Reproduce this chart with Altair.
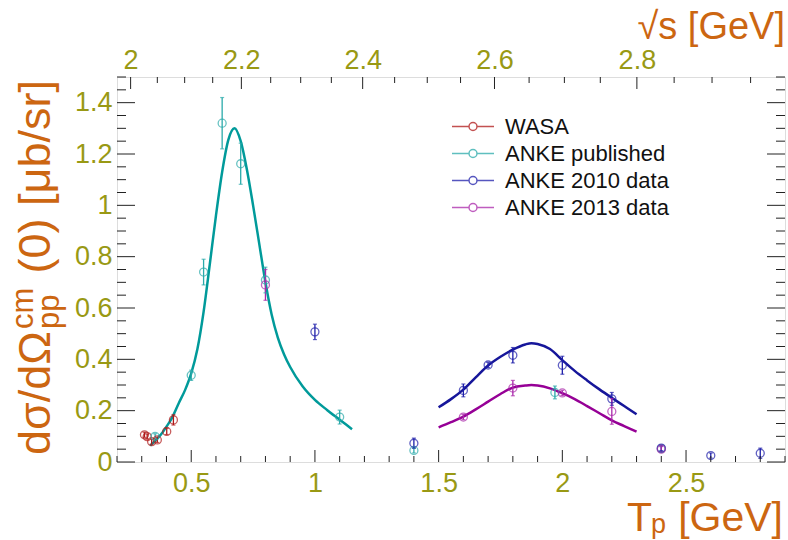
import altair as alt
import pandas as pd

# ---------------- data ----------------
series_names = ["WASA", "ANKE published", "ANKE 2010 data", "ANKE 2013 data"]
point_colors = ["#b01818", "#2aaaaa", "#1e1eaa", "#aa28aa"]

wasa_tp = [0.311, 0.322, 0.340, 0.363, 0.401, 0.428]
wasa_val = [0.106, 0.099, 0.079, 0.086, 0.119, 0.164]
wasa_err = [0.010, 0.010, 0.010, 0.010, 0.012, 0.020]

pub_tp = [0.354, 0.50, 0.55, 0.625, 0.70, 0.80, 1.10, 1.40, 1.97, 2.40]
pub_val = [0.100, 0.338, 0.740, 1.320, 1.162, 0.709, 0.175, 0.045, 0.271, 0.052]
pub_err = [0.010, 0.020, 0.050, 0.100, 0.080, 0.050, 0.027, 0.010, 0.025, 0.010]

a10_tp = [1.0, 1.4, 1.6, 1.7, 1.8, 2.0, 2.2, 2.4, 2.6, 2.8]
a10_val = [0.507, 0.073, 0.279, 0.378, 0.416, 0.377, 0.246, 0.054, 0.025, 0.034]
a10_err = [0.030, 0.020, 0.025, 0.010, 0.030, 0.035, 0.025, 0.010, 0.010, 0.020]

a13_tp = [0.8, 1.6, 1.8, 2.0, 2.2, 2.4]
a13_val = [0.690, 0.175, 0.288, 0.269, 0.197, 0.050]
a13_err = [0.060, 0.010, 0.030, 0.010, 0.050, 0.010]

# fitted curves
fit_pub_tp = [0.334, 0.36, 0.38, 0.40, 0.42, 0.45, 0.475, 0.50, 0.525, 0.55, 0.575, 0.60,
              0.625, 0.65, 0.675, 0.70, 0.725, 0.75, 0.775, 0.80, 0.825, 0.85, 0.875,
              0.90, 0.95, 1.00, 1.05, 1.10, 1.15]
fit_pub_val = [0.064, 0.088, 0.110, 0.138, 0.168, 0.230, 0.280, 0.345, 0.440, 0.585, 0.770, 0.960,
               1.130, 1.255, 1.300, 1.250, 1.140, 1.000, 0.850, 0.700, 0.575, 0.485, 0.420,
               0.370, 0.295, 0.242, 0.202, 0.165, 0.128]
fit_a10_tp = [1.50, 1.55, 1.60, 1.65, 1.70, 1.75, 1.80, 1.85, 1.875, 1.90, 1.95, 2.00, 2.05,
              2.10, 2.15, 2.20, 2.25, 2.30]
fit_a10_val = [0.213, 0.245, 0.282, 0.330, 0.376, 0.410, 0.438, 0.458, 0.463, 0.460, 0.440,
               0.397, 0.355, 0.318, 0.283, 0.250, 0.218, 0.186]
fit_a13_tp = fit_a10_tp
fit_a13_val = [0.135, 0.155, 0.177, 0.205, 0.235, 0.265, 0.290, 0.298, 0.300, 0.298, 0.287,
               0.268, 0.245, 0.218, 0.190, 0.162, 0.140, 0.118]

x_major = [0.5, 1.0, 1.5, 2.0, 2.5]
y_major = [0, 0.2, 0.4, 0.6, 0.8, 1.0, 1.2, 1.4]
sqrts_major = [2.0, 2.2, 2.4, 2.6, 2.8]

# ---------------- layout / style ----------------
W, H = 668, 385
OLIVE = "#999914"
ORANGE = "#cc6611"
FONT = "Liberation Sans"
MP = 0.938272  # proton mass, for the sqrt(s) axis


def tp_of_sqrts(r):
    return r * r / (2 * MP) - 2 * MP


top_major_tp = [tp_of_sqrts(r) for r in sqrts_major]
top_minor_tp = [tp_of_sqrts(2.0 + 0.05 * i) for i in range(20) if i % 4 != 0]
x_minor = [round(0.2 + 0.1 * i, 2) for i in range(28) if round(0.2 + 0.1 * i, 2) not in x_major]
y_minor = [round(0.05 * i, 2) for i in range(31) if round(0.05 * i, 2) not in [round(v, 2) for v in y_major]]

xscale = alt.Scale(domain=[0.2, 2.9], nice=False, zero=False)
yscale = alt.Scale(domain=[0, 1.5], nice=False, zero=True)
cscale = alt.Scale(domain=series_names, range=point_colors)

rows = []
for name, tps, vals, errs in [("WASA", wasa_tp, wasa_val, wasa_err),
                              ("ANKE published", pub_tp, pub_val, pub_err),
                              ("ANKE 2010 data", a10_tp, a10_val, a10_err),
                              ("ANKE 2013 data", a13_tp, a13_val, a13_err)]:
    for t, v, e in zip(tps, vals, errs):
        rows.append({"tp": t, "val": v, "lo": v - e, "hi": v + e, "series": name})
pts = pd.DataFrame(rows)

legend_path = ("M-1,0L-0.19,0M0.19,0A0.19,0.19,0,1,0,-0.19,0"
               "A0.19,0.19,0,1,0,0.19,0M0.19,0L1,0")

points = alt.Chart(pts).mark_point(shape="circle", filled=False, size=64, strokeWidth=1.3).encode(
    x=alt.X("tp:Q", scale=xscale,
            axis=alt.Axis(values=x_major, format="~g", ticks=False, domain=False, grid=False,
                          labelFontSize=27, labelColor=OLIVE, labelFont=FONT, labelPadding=8,
                          labelFlush=False, labelOverlap=False, title=None)),
    y=alt.Y("val:Q", scale=yscale,
            axis=alt.Axis(values=y_major, format="~g", ticks=False, domain=False, grid=False,
                          labelFontSize=27, labelColor=OLIVE, labelFont=FONT, labelPadding=5,
                          labelFlush=False, labelOverlap=False, title=None)),
    color=alt.Color("series:N", scale=cscale,
                    legend=alt.Legend(orient="none", legendX=334, legendY=36, title=None,
                                      symbolType=legend_path, symbolSize=1764,
                                      symbolStrokeWidth=1.5, symbolOpacity=0.75,
                                      labelFontSize=22, labelFont=FONT, labelColor="#111111",
                                      labelOffset=10, labelLimit=400, clipHeight=27,
                                      rowPadding=0)),
)

ebars = alt.Chart(pts).mark_rule(strokeWidth=1.3).encode(
    x=alt.X("tp:Q", scale=xscale, axis=None),
    y=alt.Y("lo:Q", scale=yscale, axis=None), y2="hi:Q",
    color=alt.Color("series:N", scale=cscale, legend=None))
cap_lo = alt.Chart(pts).mark_tick(orient="horizontal", size=4, thickness=1.2).encode(
    x=alt.X("tp:Q", scale=xscale, axis=None),
    y=alt.Y("lo:Q", scale=yscale, axis=None),
    color=alt.Color("series:N", scale=cscale, legend=None))
cap_hi = alt.Chart(pts).mark_tick(orient="horizontal", size=4, thickness=1.2).encode(
    x=alt.X("tp:Q", scale=xscale, axis=None),
    y=alt.Y("hi:Q", scale=yscale, axis=None),
    color=alt.Color("series:N", scale=cscale, legend=None))


def curve(tps, vals, color):
    df = pd.DataFrame({"tp": tps, "val": vals})
    return alt.Chart(df).mark_line(interpolate="monotone", strokeWidth=2.5, color=color).encode(
        x=alt.X("tp:Q", scale=xscale, axis=None),
        y=alt.Y("val:Q", scale=yscale, axis=None))


curves = [curve(fit_pub_tp, fit_pub_val, "#009a9a"),
          curve(fit_a10_tp, fit_a10_val, "#16169a"),
          curve(fit_a13_tp, fit_a13_val, "#960096")]


def xticks(vals, y0, y1, axis=None):
    df = pd.DataFrame({"v": vals})
    return alt.Chart(df).mark_rule(color="#222222", strokeWidth=1).encode(
        x=alt.X("v:Q", scale=xscale, axis=axis), y=alt.value(y0), y2=alt.value(y1))


def yticks(vals, x0, x1):
    df = pd.DataFrame({"v": vals})
    return alt.Chart(df).mark_rule(color="#222222", strokeWidth=1).encode(
        y=alt.Y("v:Q", scale=yscale, axis=None), x=alt.value(x0), x2=alt.value(x1))


top_axis = alt.Axis(orient="top", values=top_major_tp,
                    labelExpr="format(sqrt(1.876544*(datum.value+1.876544)), '.1~f')",
                    ticks=False, domain=False, grid=False, labelFontSize=27, labelColor=OLIVE,
                    labelFont=FONT, labelPadding=3, labelFlush=False, labelOverlap=False,
                    title=None)

ticks = [xticks(x_major, H, H - 12), xticks(x_minor, H, H - 6),
         xticks(top_major_tp, 0, 12, axis=top_axis), xticks(top_minor_tp, 0, 6),
         yticks(y_major, 0, 18), yticks(y_minor, 0, 9),
         yticks(y_major, W, W - 18), yticks(y_minor, W, W - 9)]


def label(text, x, y, size, align="left", angle=0, color=ORANGE):
    return alt.Chart(pd.DataFrame({"t": [text]})).mark_text(
        font=FONT, fontSize=size, color=color, align=align, baseline="alphabetic",
        angle=angle).encode(text="t:N", x=alt.value(x), y=alt.value(y))


titles = [
    # y title: dσ/dΩ^cm_pp(0) [μb/sr]
    label("dσ/dΩ", -67, 378, 45, align="left", angle=270),
    label("cm", -84, 252, 31, align="left", angle=270),
    label("pp", -58, 252, 31, align="left", angle=270),
    label("(0) [μb/sr]", -67, 3, 45, align="right", angle=270),
    # x title: T_p [GeV]
    label("T", 535, 454, 41, align="right"),
    label("p", 534, 456, 27, align="left"),
    label("[GeV]", 666, 454, 41, align="right"),
    # top title: √s [GeV]
    label("√s [GeV]", 668, -38, 38, align="right"),
]

chart = alt.layer(*curves, ebars, cap_lo, cap_hi, points, *ticks, *titles).resolve_axis(
    x="independent", y="independent").resolve_legend(color="independent").properties(
    width=W, height=H,
    autosize=alt.AutoSizeParams(type="none"),
    padding={"left": 117, "top": 77, "right": 3, "bottom": 78},
).configure_view(stroke="black", strokeWidth=2).configure(background="white")

chart.save("out.html", embed_options={"renderer": "svg", "actions": False})
